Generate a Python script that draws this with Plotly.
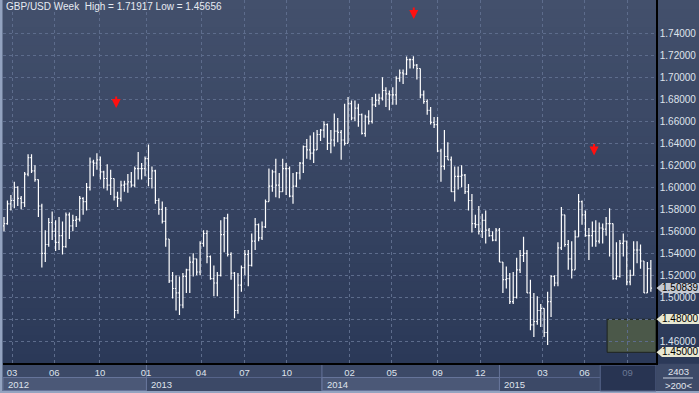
import plotly.graph_objects as go

# ---------------- data ----------------
opens = [1.565,1.567,1.585,1.588,1.600,1.590,1.586,1.612,1.627,1.615,
         1.607,1.583,1.540,1.548,1.568,1.560,1.550,1.556,1.546,1.575,
         1.565,1.570,1.571,1.590,1.587,1.600,1.623,1.622,1.625,1.614,
         1.608,1.602,1.608,1.591,1.590,1.602,1.603,1.605,1.602,1.617,
         1.617,1.617,1.626,1.608,1.615,1.588,1.580,1.569,1.553,1.515,
         1.508,1.504,1.493,1.519,1.525,1.532,1.535,1.523,1.549,1.558,
         1.537,1.517,1.513,1.520,1.557,1.572,1.539,1.522,1.488,1.511,
         1.527,1.539,1.529,1.551,1.566,1.554,1.564,1.587,1.601,1.614,
         1.602,1.596,1.617,1.617,1.592,1.601,1.613,1.622,1.637,1.634,
         1.631,1.634,1.648,1.652,1.657,1.640,1.643,1.651,1.650,1.643,
         1.640,1.676,1.663,1.672,1.666,1.649,1.664,1.660,1.675,1.679,
         1.681,1.688,1.685,1.684,1.684,1.699,1.704,1.703,1.716,1.716,
         1.711,1.708,1.684,1.678,1.670,1.659,1.657,1.633,1.619,1.628,
         1.625,1.596,1.610,1.610,1.611,1.596,1.588,1.567,1.566,1.560,
         1.570,1.561,1.556,1.552,1.561,1.532,1.516,1.517,1.496,1.500,
         1.525,1.538,1.540,1.504,1.475,1.478,1.488,1.490,1.468,1.496,
         1.519,1.513,1.545,1.575,1.548,1.535,1.525,1.555,1.587,1.575,
         1.556,1.556,1.560,1.551,1.563,1.562,1.567,1.567,1.517,1.519,
         1.549,1.551,1.514,1.520,1.543,1.543,1.533,1.504,1.526]
highs = [1.573,1.588,1.593,1.605,1.601,1.592,1.614,1.630,1.630,1.620,
         1.607,1.585,1.561,1.572,1.578,1.570,1.573,1.569,1.577,1.577,
         1.575,1.574,1.592,1.591,1.604,1.627,1.625,1.631,1.628,1.615,
         1.621,1.616,1.608,1.596,1.606,1.606,1.612,1.614,1.619,1.632,
         1.622,1.628,1.639,1.619,1.616,1.590,1.587,1.582,1.553,1.523,
         1.520,1.519,1.522,1.526,1.537,1.540,1.535,1.551,1.561,1.561,
         1.538,1.529,1.523,1.570,1.573,1.576,1.541,1.523,1.522,1.529,
         1.543,1.543,1.558,1.572,1.567,1.569,1.589,1.617,1.616,1.626,
         1.613,1.626,1.622,1.619,1.613,1.614,1.623,1.638,1.644,1.647,
         1.650,1.652,1.653,1.660,1.658,1.652,1.667,1.663,1.652,1.676,
         1.682,1.679,1.679,1.676,1.667,1.666,1.670,1.682,1.685,1.685,
         1.700,1.691,1.688,1.691,1.701,1.707,1.707,1.719,1.717,1.71917,
         1.712,1.708,1.688,1.680,1.673,1.664,1.664,1.635,1.652,1.641,
         1.628,1.619,1.619,1.620,1.612,1.603,1.594,1.575,1.583,1.576,
         1.579,1.563,1.560,1.563,1.563,1.532,1.528,1.522,1.523,1.536,
         1.543,1.555,1.543,1.516,1.504,1.501,1.494,1.490,1.505,1.520,
         1.520,1.550,1.582,1.575,1.552,1.551,1.561,1.594,1.588,1.579,
         1.563,1.569,1.570,1.568,1.567,1.573,1.581,1.567,1.550,1.552,
         1.558,1.551,1.525,1.551,1.551,1.548,1.533,1.532,1.534]
lows = [1.560,1.566,1.579,1.581,1.583,1.580,1.582,1.610,1.613,1.605,
        1.573,1.527,1.532,1.546,1.552,1.542,1.543,1.539,1.545,1.553,
        1.560,1.564,1.569,1.575,1.579,1.597,1.610,1.616,1.607,1.599,
        1.597,1.593,1.588,1.582,1.587,1.596,1.595,1.600,1.600,1.607,
        1.607,1.610,1.601,1.599,1.585,1.575,1.567,1.546,1.513,1.499,
        1.488,1.484,1.490,1.504,1.504,1.519,1.520,1.520,1.546,1.531,
        1.516,1.501,1.501,1.519,1.541,1.537,1.516,1.481,1.485,1.505,
        1.520,1.510,1.528,1.543,1.551,1.552,1.563,1.587,1.596,1.591,
        1.590,1.596,1.593,1.591,1.585,1.600,1.607,1.613,1.626,1.625,
        1.622,1.634,1.642,1.645,1.634,1.631,1.637,1.641,1.625,1.638,
        1.640,1.661,1.660,1.655,1.648,1.646,1.657,1.658,1.673,1.675,
        1.679,1.673,1.670,1.675,1.675,1.696,1.694,1.702,1.708,1.708,
        1.698,1.681,1.676,1.666,1.657,1.654,1.632,1.605,1.616,1.625,
        1.596,1.587,1.598,1.600,1.594,1.579,1.559,1.563,1.557,1.554,
        1.549,1.555,1.551,1.551,1.532,1.504,1.508,1.494,1.494,1.499,
        1.522,1.532,1.504,1.470,1.464,1.475,1.473,1.464,1.45656,1.482,
        1.510,1.510,1.543,1.546,1.525,1.517,1.525,1.555,1.566,1.555,
        1.534,1.546,1.546,1.549,1.549,1.556,1.537,1.516,1.516,1.518,
        1.537,1.511,1.511,1.520,1.531,1.526,1.504,1.504,1.505]
closes = [1.567,1.585,1.588,1.600,1.590,1.586,1.612,1.627,1.615,1.607,
          1.583,1.540,1.548,1.568,1.560,1.550,1.556,1.546,1.575,1.565,
          1.570,1.571,1.590,1.587,1.600,1.623,1.622,1.625,1.614,1.608,
          1.602,1.608,1.591,1.590,1.602,1.603,1.605,1.602,1.617,1.617,
          1.617,1.626,1.608,1.615,1.588,1.580,1.569,1.553,1.515,1.508,
          1.504,1.493,1.519,1.525,1.532,1.535,1.523,1.549,1.558,1.537,
          1.517,1.513,1.520,1.557,1.572,1.539,1.522,1.488,1.511,1.527,
          1.539,1.529,1.551,1.566,1.554,1.564,1.587,1.601,1.614,1.602,
          1.596,1.617,1.617,1.592,1.601,1.613,1.622,1.637,1.634,1.631,
          1.634,1.648,1.652,1.657,1.640,1.643,1.651,1.650,1.643,1.640,
          1.676,1.663,1.672,1.666,1.649,1.664,1.660,1.675,1.679,1.681,
          1.688,1.685,1.684,1.684,1.699,1.704,1.703,1.716,1.716,1.711,
          1.708,1.684,1.678,1.670,1.659,1.657,1.633,1.619,1.628,1.625,
          1.596,1.610,1.610,1.611,1.596,1.588,1.567,1.566,1.560,1.570,
          1.561,1.556,1.552,1.561,1.532,1.516,1.517,1.496,1.500,1.525,
          1.538,1.540,1.504,1.475,1.478,1.488,1.490,1.468,1.496,1.519,
          1.513,1.545,1.575,1.548,1.535,1.525,1.555,1.587,1.575,1.556,
          1.556,1.560,1.551,1.563,1.562,1.567,1.567,1.517,1.519,1.549,
          1.551,1.514,1.520,1.543,1.543,1.533,1.504,1.526,1.50839]
weeks = list(range(len(closes)))

month_labels = ["03","06","10","01","04","07","10","02","05","09","12","03","06","09"]
month_pos = [2.33,14.6,27.9,41.3,57.3,69.9,82.2,100.4,112.7,126.0,138.4,156.5,168.7,181.2]
years = ["2012","2013","2014","2015"]
year_start = [-0.29,41.4,92.4,144.0]
year_end = [41.4,92.4,144.0,173.3]

y_ticks = [1.46,1.48,1.50,1.52,1.54,1.56,1.58,1.60,1.62,1.64,1.66,1.68,1.70,1.72,1.74]
# 1.48000 is shown by the zone tag that sits on top of it
y_ticktext = ["1.46000","","1.50000","1.52000","1.54000","1.56000","1.58000","1.60000",
              "1.62000","1.64000","1.66000","1.68000","1.70000","1.72000","1.74000"]

signal_week = [32.6,119.1,171.5]
signal_level = [1.672,1.753,1.629]

zone_start = 175.3
zone_low, zone_high = 1.45, 1.48
last_price = 1.50839
high_val, low_val = 1.71917, 1.45656

# ---------------- geometry helpers ----------------
W, H = 699, 393
ML, MR, MT, MB = 3, 43, 0, 30
PW, PH = W - ML - MR, H - MT - MB
XMIN, XMAX = -0.29, 189.5
YMIN, YMAX = 1.44027, 1.77027
def px(p):   # pixel x -> paper
    return (p - ML) / PW
def py(p):   # pixel y -> paper
    return (H - MB - p) / PH

FONT = "Liberation Sans, Arial, sans-serif"

fig = go.Figure()
fig.add_trace(go.Ohlc(
    x=weeks, open=opens, high=highs, low=lows, close=closes,
    increasing=dict(line=dict(color="#ffffff", width=1.2)),
    decreasing=dict(line=dict(color="#ffffff", width=1.2)),
    tickwidth=0.35, hoverinfo="skip", showlegend=False))

shapes = []
# gradient background (plot + right axis panel)
top = (67, 80, 108)
bot = (43, 57, 88)
N = 40
for k in range(N):
    t = (k + 0.5) / N
    c = tuple(int(round(top[j] + (bot[j] - top[j]) * t)) for j in range(3))
    shapes.append(dict(type="rect", xref="paper", yref="paper",
                       x0=px(0), x1=px(W), y0=1 - k / N, y1=1 - (k + 1) / N - 0.002,
                       fillcolor="rgb(%d,%d,%d)" % c, line=dict(width=0), layer="below"))
# left light strip and bottom border
shapes.append(dict(type="rect", xref="paper", yref="paper", x0=px(0), x1=px(2.5),
                   y0=py(H), y1=1, fillcolor="#93a3c0", line=dict(width=0), layer="below"))
shapes.append(dict(type="rect", xref="paper", yref="paper", x0=px(0), x1=px(W),
                   y0=py(H), y1=py(391), fillcolor="#93a3c0", line=dict(width=0), layer="below"))
# month/year row separator
shapes.append(dict(type="line", xref="paper", yref="paper", x0=px(3), x1=px(656),
                   y0=py(377.5), y1=py(377.5), line=dict(color="#56648a", width=1), layer="below"))
# year boxes
for k in range(len(years)):
    if k % 2 == 0:
        shapes.append(dict(type="rect", xref="x", yref="paper", x0=year_start[k], x1=year_end[k],
                           y0=py(390.5), y1=py(377.5), fillcolor="#4b5877",
                           line=dict(color="#66749a", width=1), layer="below"))
    if k > 0:
        shapes.append(dict(type="line", xref="x", yref="paper", x0=year_start[k], x1=year_start[k],
                           y0=py(391), y1=py(364), line=dict(color="#66749a", width=1), layer="below"))
# dark current-period box
shapes.append(dict(type="rect", xref="x", yref="paper", x0=year_end[-1], x1=XMAX,
                   y0=py(391), y1=py(365), fillcolor="#283452",
                   line=dict(color="#56648a", width=1), layer="below"))
# bottom right cell
shapes.append(dict(type="rect", xref="paper", yref="paper", x0=px(657), x1=px(W),
                   y0=py(391), y1=py(364.5), fillcolor="#3d4a68", line=dict(width=0), layer="below"))
shapes.append(dict(type="line", xref="paper", yref="paper", x0=px(663), x1=px(693),
                   y0=py(378), y1=py(378), line=dict(color="#c8d0de", width=1)))
# target zone
shapes.append(dict(type="rect", xref="x", yref="y", x0=zone_start, x1=XMAX,
                   y0=zone_low, y1=zone_high, fillcolor="#4b5849",
                   line=dict(color="#1e241e", width=1), layer="below"))

annotations = []
annotations.append(dict(xref="paper", yref="paper", x=px(4), y=py(7), xanchor="left", yanchor="middle",
                        text="GBP/USD Week  High = %.5f Low = %.5f" % (high_val, low_val),
                        showarrow=False, font=dict(family=FONT, size=10, color="#e6eaf2")))
for k, yr in enumerate(years):
    annotations.append(dict(xref="x", yref="paper", x=year_start[k], y=py(384), xanchor="left",
                            yanchor="middle", xshift=3, text=yr, showarrow=False,
                            font=dict(family=FONT, size=9.5, color="#dfe3ec")))
annotations.append(dict(xref="paper", yref="paper", x=px(678), y=py(371), text="2403",
                        showarrow=False, xanchor="center", yanchor="middle",
                        font=dict(family=FONT, size=9.5, color="#e2e6ee")))
annotations.append(dict(xref="paper", yref="paper", x=px(678), y=py(385), text="&gt;200&lt;",
                        showarrow=False, xanchor="center", yanchor="middle",
                        font=dict(family=FONT, size=9.5, color="#e2e6ee")))
# price tags
tags = [(last_price, "#c5c9d2"), (zone_high, "#e8e8d2"), (zone_low, "#e8e8d2")]
half = 4.6 / PH * (YMAX - YMIN)
for val, col in tags:
    annotations.append(dict(xref="paper", yref="y", x=px(661.5), y=val, xanchor="left", yanchor="middle",
                            text="%.5f" % val, showarrow=False, bgcolor=col, borderpad=0,
                            borderwidth=0, height=9.5,
                            font=dict(family=FONT, size=10, color="#000000")))
    shapes.append(dict(type="path", xref="paper", yref="y",
                       path="M %f,%f L %f,%f L %f,%f Z" % (px(662), val + half, px(656.5), val, px(662), val - half),
                       fillcolor=col, line=dict(width=0)))
# red signal arrows
for sx, sy in zip(signal_week, signal_level):
    annotations.append(dict(xref="x", yref="y", x=sx, y=sy, ax=0, ay=-13, text="",
                            showarrow=True, arrowhead=2, arrowsize=0.9, arrowwidth=2,
                            arrowcolor="#ff1010"))

ticktext = month_labels[:-1] + ['<span style="color:#6b7894">%s</span>' % month_labels[-1]]

fig.update_layout(
    width=W, height=H, margin=dict(l=ML, r=MR, t=MT, b=MB, pad=0, autoexpand=False),
    paper_bgcolor="#3c4967", plot_bgcolor="rgba(0,0,0,0)",
    shapes=shapes, annotations=annotations, showlegend=False,
    xaxis=dict(range=[XMIN, XMAX], rangeslider=dict(visible=False), automargin=False,
               tickmode="array", tickvals=month_pos, ticktext=ticktext,
               showgrid=True, gridcolor="#5d6c8c", griddash="3px,3px", gridwidth=1,
               showline=True, linecolor="#000000", linewidth=1.5, ticks="",
               tickfont=dict(family=FONT, size=9.5, color="#dfe3ec"), zeroline=False,
               fixedrange=True),
    yaxis=dict(range=[YMIN, YMAX], side="right", automargin=False, tickmode="array",
               tickvals=y_ticks, ticktext=y_ticktext,
               showgrid=True, gridcolor="#5d6c8c", griddash="3px,3px",
               gridwidth=1, showline=True, linecolor="#000000", linewidth=1.5, ticks="",
               tickfont=dict(family=FONT, size=10, color="#dfe3ec"), zeroline=False,
               fixedrange=True),
)
fig.write_html("out.html", config={"displayModeBar": False},
               post_script="document.body.style.margin='0';document.body.style.overflow='hidden';")
